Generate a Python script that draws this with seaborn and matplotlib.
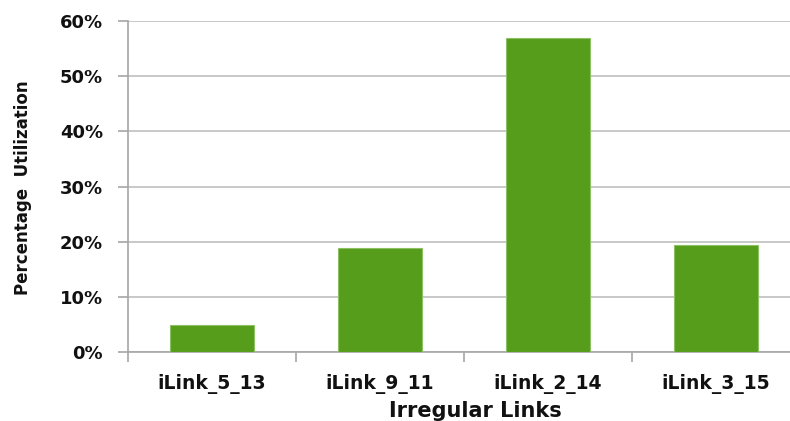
import matplotlib
matplotlib.use("Agg")
import matplotlib.pyplot as plt
import seaborn as sns
import pandas as pd
from matplotlib.ticker import PercentFormatter

links = ["iLink_5_13", "iLink_9_11", "iLink_2_14", "iLink_3_15"]
utilization = [4.9, 18.8, 57.0, 19.4]
y_ticks = [0, 10, 20, 30, 40, 50, 60]

df = pd.DataFrame({"link": links, "util": utilization})

sns.set_theme(style="white")
plt.rcParams["font.family"] = ["DejaVu Sans"]

fig = plt.figure(figsize=(7.90, 4.21), dpi=100)
ax = fig.add_axes([128 / 790, 1 - 352 / 421, 672 / 790, 331 / 421])

sns.barplot(data=df, x="link", y="util", color="#579D1C", saturation=1,
            width=0.505, edgecolor="#8CC063", linewidth=0.8, ax=ax, zorder=3)

ax.set_xlim(-0.5, 3.5)
ax.set_ylim(0, 60)
ax.set_yticks(y_ticks)
ax.yaxis.set_major_formatter(PercentFormatter(decimals=0))
ax.grid(axis="y", color="#BFBFBF", linewidth=1.2, zorder=0)
ax.set_axisbelow(True)

for side in ["top", "right"]:
    ax.spines[side].set_visible(False)
for side in ["left", "bottom"]:
    ax.spines[side].set_color("#A6A6A6")
    ax.spines[side].set_linewidth(1.2)

# category separators as x ticks
ax.set_xticks([-0.5, 0.5, 1.5, 2.5, 3.5], minor=True)
ax.tick_params(axis="x", which="minor", bottom=True, length=7, width=1.2,
               color="#A6A6A6")
ax.tick_params(axis="x", which="major", bottom=False, pad=9.5)
ax.tick_params(axis="y", left=True, length=7, width=1.2, color="#A6A6A6", pad=11)

for lab in ax.get_xticklabels():
    lab.set_fontweight("bold")
    lab.set_fontsize(13.5)
    lab.set_color("#111111")
for lab in ax.get_yticklabels():
    lab.set_fontweight("bold")
    lab.set_fontsize(13)
    lab.set_color("#111111")

ax.set_xlabel("Irregular Links", fontsize=15, fontweight="bold", color="#111111")
ax.xaxis.label.set_va("baseline")
ax.xaxis.set_label_coords(0.5164, -0.196)

ax.set_ylabel("Percentage  Utilization", fontsize=12, fontweight="bold",
              color="#111111")
ax.yaxis.label.set_va("center")
ax.yaxis.set_label_coords(-0.156, 0.495)

fig.savefig("out.png", dpi=100)
